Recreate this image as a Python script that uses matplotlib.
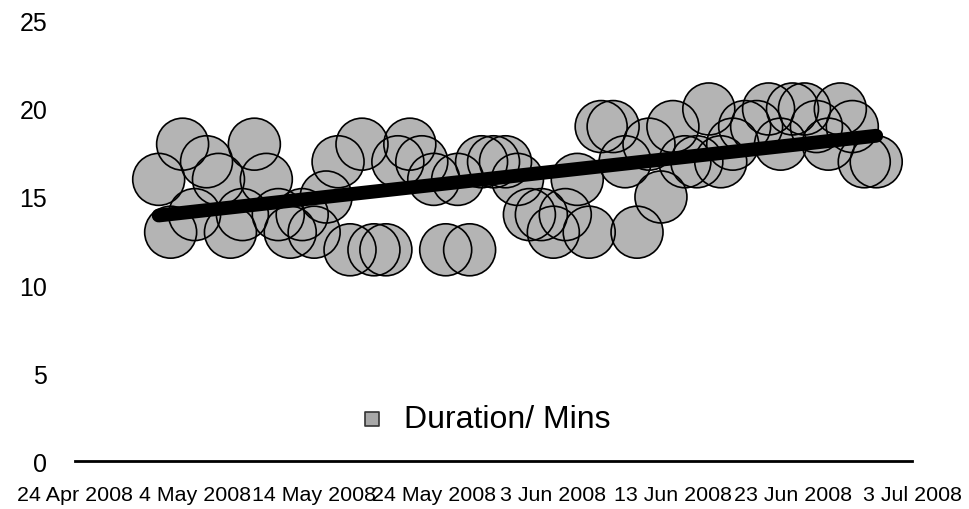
import datetime as dt
import numpy as np
import matplotlib
matplotlib.use("Agg")
import matplotlib.pyplot as plt
import matplotlib.dates as mdates
from matplotlib.ticker import FuncFormatter

plt.rcParams['font.family'] = ['Liberation Sans', 'DejaVu Sans']

# session dates (May 1 .. Jun 30 2008) and durations in minutes
dates = [dt.date(2008, 5, 1) + dt.timedelta(days=i) for i in range(61)]
durations = [
    16, 13, 18, 14, 17, 16, 13, 14, 18, 16,   # May 1-10
    14, 13, 14, 13, 15, 17, 12, 18, 12, 12,   # May 11-20
    17, 18, 17, 16, 12, 16, 12, 17, 17, 17,   # May 21-30
    16, 14, 14, 13, 14, 16, 13, 19, 19, 17,   # May 31 - Jun 9
    13, 18, 15, 19, 17, 17, 20, 17, 18, 19,   # Jun 10-19
    19, 20, 18, 20, 20, 19, 18, 20, 19, 17,   # Jun 20-29
    17,                                       # Jun 30
]
series_label = 'Duration/ Mins'
x_start = dt.date(2008, 4, 24)
x_end = dt.date(2008, 7, 3)
y_ticks = [0, 5, 10, 15, 20, 25]

fig = plt.figure(figsize=(9.7, 5.1), dpi=100)
ax = fig.add_axes([0.0773, 0.094, 0.863, 0.863])

xs = mdates.date2num(dates)
ys = np.array(durations, dtype=float)

# fills first, outlines on top so every circle edge stays visible
ax.scatter(xs, ys, s=1400, facecolor='#b4b4b4', edgecolor='none', zorder=2)
ax.scatter(xs, ys, s=1400, facecolor='none', edgecolor='black', linewidth=1.2, zorder=3)

# linear trend line
k, b = np.polyfit(xs, ys, 1)
tx = np.array([xs[0], xs[-1]])
ax.plot(tx, k * tx + b, color='black', linewidth=10, solid_capstyle='round', zorder=4)

ax.set_xlim(mdates.date2num(x_start), mdates.date2num(x_end))
ax.set_ylim(0, 25)
ax.set_xticks(mdates.date2num([x_start + dt.timedelta(days=10 * i) for i in range(8)]))
ax.xaxis.set_major_formatter(FuncFormatter(
    lambda v, pos: (lambda d: f"{d.day} {d:%b %Y}")(mdates.num2date(v))))
ax.set_yticks(y_ticks)
ax.tick_params(axis='x', length=0, pad=17, labelsize=15.4)
ax.tick_params(axis='y', length=0, pad=20, labelsize=18)

for side in ['top', 'right', 'left']:
    ax.spines[side].set_visible(False)
ax.spines['bottom'].set_linewidth(2)
ax.spines['bottom'].set_color('black')

handle = ax.scatter([], [], marker='s', s=110, facecolor='#a8a8a8',
                    edgecolor='#333333', linewidth=1.2, label=series_label)
ax.legend(handles=[handle], loc='center', bbox_to_anchor=(0.478, 0.095),
          frameon=False, fontsize=23, handletextpad=0.0, markerscale=1)

fig.savefig('out.png', dpi=100)
